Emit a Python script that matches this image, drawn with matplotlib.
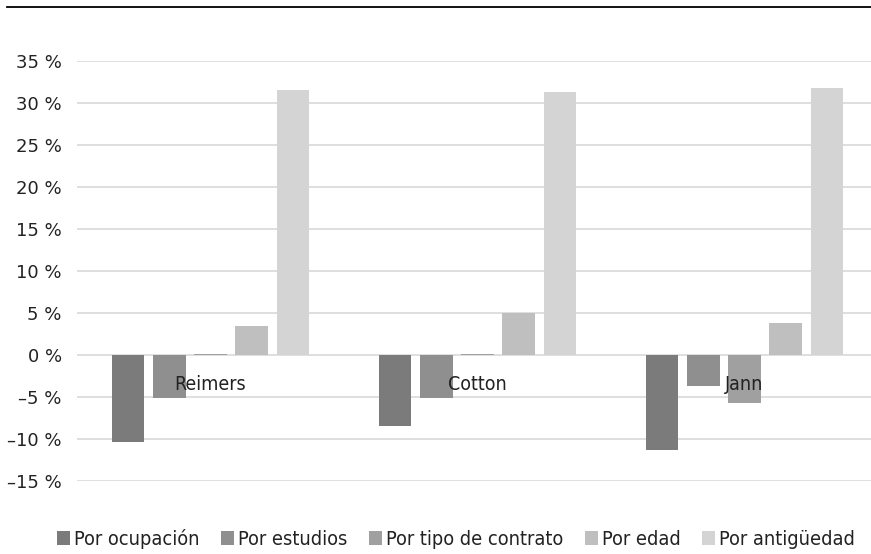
import matplotlib
matplotlib.use('Agg')
import matplotlib.pyplot as plt
import numpy as np
from matplotlib.lines import Line2D
from matplotlib import font_manager as fm

plt.rcParams['font.family'] = ['DejaVu Sans']

# data (in %)
categories = ['Reimers', 'Cotton', 'Jann']
series_names = ['Por ocupación', 'Por estudios', 'Por tipo de contrato', 'Por edad', 'Por antigüedad']
ocupacion = [-10.3, -8.45, -11.35]
estudios = [-5.15, -5.15, -3.7]
tipo_contrato = [0.1, 0.1, -5.75]
edad = [3.45, 4.95, 3.85]
antiguedad = [31.55, 31.3, 31.8]
colors = ['#7b7b7b', '#8f8f8f', '#a0a0a0', '#bfbfbf', '#d4d4d4']

series = [ocupacion, estudios, tipo_contrato, edad, antiguedad]

fig = plt.figure(figsize=(8.71, 5.54), dpi=100)
ax = fig.add_axes([77 / 871, 1 - 481 / 554, 801 / 871, 420 / 554])

x = np.arange(len(categories))
pitch = 0.1536
width = 0.12
for i, (name, vals) in enumerate(zip(series_names, series)):
    ax.bar(x + (i - 2) * pitch, vals, width=width, color=colors[i], label=name, zorder=3)

ax.set_xlim(-0.5, 2.5)
ax.set_ylim(-15, 35)
yt = np.arange(-15, 36, 5)
ax.set_yticks(yt)
ax.set_yticklabels([f"{v} %".replace('-', '–') for v in yt], fontsize=13, color='#222222')
ax.set_xticks([])
ax.tick_params(axis='y', length=0, pad=11)
ax.grid(axis='y', color='#d9d9d9', linewidth=1.2, zorder=0)
for s in ax.spines.values():
    s.set_visible(False)

cond = fm.FontProperties(family='DejaVu Sans', stretch='condensed', size=14)

# category labels sit just under the zero line
for xi, name in zip(x, categories):
    ax.text(xi, -3.5, name, ha='center', va='center', fontproperties=cond,
            color='#222222', zorder=4)

# top rule
fig.add_artist(Line2D([7 / 871, 1], [1 - 7 / 554, 1 - 7 / 554], color='black', linewidth=1.3))

fig.legend(loc='center', bbox_to_anchor=(456 / 871, 1 - 539 / 554), ncol=5, frameon=False,
           prop=fm.FontProperties(family='DejaVu Sans', stretch='condensed', size=14.3),
           handlelength=0.64, handleheight=0.64, borderpad=0,
           handletextpad=0.2, columnspacing=1.1, labelcolor='#222222')

fig.savefig('out.png', dpi=100)
